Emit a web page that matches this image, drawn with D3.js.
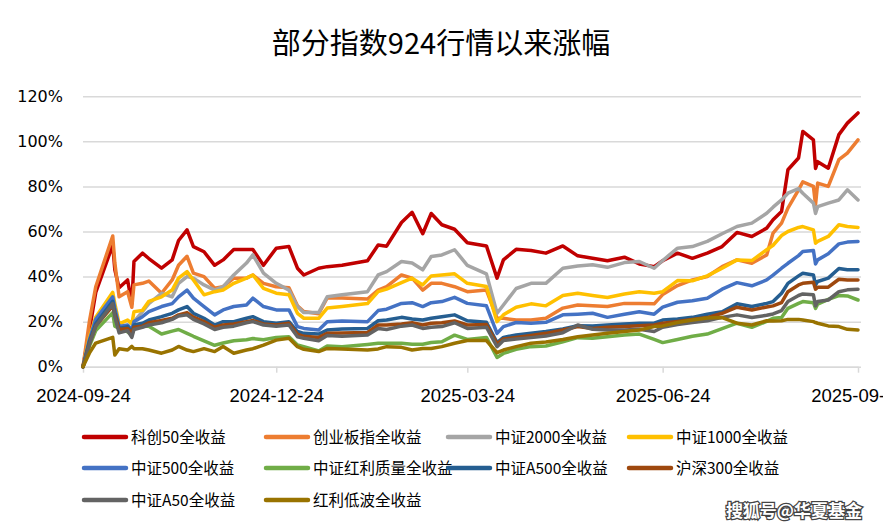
<!DOCTYPE html>
<html>
<head>
<meta charset="utf-8">
<script src="https://cdn.jsdelivr.net/npm/d3@7"></script>
<style>
  body { margin: 0; background: #fff; }
  svg { display: block; }
</style>
</head>
<body>
<svg id="chart" width="883" height="529"></svg>
<script>
const title = '部分指数924行情以来涨幅';
const watermark = '搜狐号@华夏基金';

const dates = [
  '2024-09-24', '2024-09-27', '2024-09-30', '2024-10-08', '2024-10-09', '2024-10-11', '2024-10-15', '2024-10-17', '2024-10-18', '2024-10-22',
  '2024-10-25', '2024-10-31', '2024-11-05', '2024-11-08', '2024-11-12', '2024-11-15', '2024-11-20', '2024-11-25', '2024-11-29', '2024-12-04',
  '2024-12-10', '2024-12-13', '2024-12-18', '2024-12-24', '2024-12-30', '2025-01-03', '2025-01-06', '2025-01-13', '2025-01-17', '2025-01-24',
  '2025-02-05', '2025-02-10', '2025-02-14', '2025-02-21', '2025-02-26', '2025-03-03', '2025-03-07', '2025-03-12', '2025-03-18', '2025-03-24',
  '2025-04-02', '2025-04-07', '2025-04-10', '2025-04-16', '2025-04-23', '2025-04-30', '2025-05-08', '2025-05-15', '2025-05-22', '2025-05-29',
  '2025-06-06', '2025-06-13', '2025-06-20', '2025-06-24', '2025-07-01', '2025-07-08', '2025-07-15', '2025-07-22', '2025-07-29', '2025-08-05',
  '2025-08-12', '2025-08-15', '2025-08-19', '2025-08-22', '2025-08-27', '2025-08-29', '2025-09-03', '2025-09-04', '2025-09-05', '2025-09-10',
  '2025-09-15', '2025-09-19', '2025-09-24'
];

const xTicks = ['2024-09-24', '2024-12-24', '2025-03-24', '2025-06-24', '2025-09-24'];
const yTicks = [0, 20, 40, 60, 80, 100, 120];

const names = [
  '科创50全收益', '创业板指全收益', '中证2000全收益', '中证1000全收益',
  '中证500全收益', '中证红利质量全收益', '中证A500全收益', '沪深300全收益',
  '中证A50全收益', '红利低波全收益'
];
const colors = ['#C00000', '#ED7D31', '#A5A5A5', '#FFC000', '#4472C4', '#70AD47', '#255E91', '#9E480E', '#636363', '#997300'];

// 涨幅, %
const kc50 = [
  0, 16, 33, 54, 43, 35, 38.5, 28, 46.7, 50.4,
  48, 43.7, 47.4, 56, 60.7, 53.3, 51, 45, 47.4, 52,
  52, 52, 45, 52.6, 53.3, 43.7, 40.7, 43.7, 44.4, 45,
  47, 54, 53.5, 64, 68.5, 59, 68, 63, 61, 55,
  53.6, 39.3, 47.4, 52.1, 51.6, 50.4, 53.6, 49.2, 48.1, 47,
  48.6, 45.6, 44.4, 47, 50.4, 48.1, 50.4, 53.3, 59.6, 57.8,
  61.5, 65.2, 68.9, 87.4, 92.6, 104.4, 100.7, 88, 91, 88.1,
  103, 108.1, 112.6
];
const cyb = [
  0, 20, 35.5, 58, 46, 31, 33.3, 26.4, 36.3, 37,
  38, 32.6, 38.5, 45, 49, 41.5, 40, 34.8, 35.5, 39.3,
  39.3, 40.7, 37, 35.5, 35, 27, 24.5, 23.5, 30.5, 30.5,
  30, 34, 35.5, 40.7, 39.3, 34, 37, 37, 35.5, 33.3,
  34, 21.5, 21.5, 20.7, 20.7, 21.5, 26, 27.4, 27, 26.7,
  28.1, 28.1, 27.9, 32, 36, 38.5, 40, 44.4, 47.4, 45.9,
  49.6, 59.3, 63.7, 70.4, 78.5, 82, 80, 72, 81.5, 80,
  91.9, 94.8, 100.7
];
const zz2000 = [
  0, 12, 20, 31, 26, 17, 17, 14, 20, 24.4,
  28, 32.6, 31, 37, 40, 39.3, 36.3, 34, 35.5, 40.7,
  46, 49.6, 41.5, 37, 34, 26.7, 24, 24, 31, 31.9,
  33.3, 40.7, 42.2, 46.7, 46, 43, 48.9, 49.6, 51.9, 45,
  41.2, 23.7, 27.4, 34.7, 37, 37, 43.7, 44.7, 45.2, 44.1,
  46.2, 46.7, 43.7, 47.1, 52.6, 53.3, 55.6, 59, 62.2, 63.7,
  68.1, 70.8, 74, 77, 79, 77, 72.6, 68, 71, 72.6,
  74, 78.5, 74
];
const zz1000 = [
  0, 13, 22, 33, 28, 19, 20.7, 19, 24.4, 25,
  29, 31, 34, 39.3, 42.2, 38.5, 31.9, 33.3, 34, 37,
  39.3, 40.7, 34.8, 32.6, 31.9, 23.7, 21.5, 21.5, 26, 26.7,
  28, 33.3, 34.4, 37.3, 39.3, 36.3, 40.3, 40.7, 41.2, 37,
  35.6, 20, 23, 26.4, 27.9, 27, 31.6, 32.6, 31.6, 30.7,
  32.3, 33.3, 32.6, 33.3, 38.2, 38.1, 40.3, 43.7, 47.4, 47.1,
  51.9, 53.9, 58.2, 60, 61.8, 62.2, 60.7, 54.8, 55.6, 57.8,
  63, 62.2, 61.8
];
const zz500 = [
  0, 12, 21, 31, 26, 17.8, 18.5, 16.3, 20, 22.2,
  24.4, 26.7, 28, 31, 34, 30.4, 26.7, 23, 25.2, 26.7,
  27.4, 30.4, 26.7, 25.2, 25.2, 17.8, 17, 16.3, 20, 20.3,
  20, 24.9, 25.5, 28.1, 28.4, 26.7, 28.4, 28.9, 30.8, 28.1,
  27, 14.8, 17.8, 19.6, 19.3, 19.7, 23, 23.3, 23.7, 21.9,
  23.3, 24.4, 23.3, 26.4, 28.6, 29.3, 30.4, 34.4, 37.3, 35.9,
  38.5, 40.6, 43.7, 45.9, 49.3, 51.1, 51.6, 45.6, 47.4, 50.1,
  54.5, 55.3, 55.6
];
const hlzl = [
  0, 9, 16, 24, 18, 17, 15.5, 14, 17.5, 18,
  18, 14.5, 15.8, 16.5, 14.8, 13.5, 11.5, 9.5, 10.5, 11.5,
  12, 12.5, 12, 13, 13.3, 9.6, 8.9, 7, 9.2, 8.9,
  9.9, 10.4, 10.4, 10.4, 10, 10, 10.7, 11.1, 14, 12.1,
  13, 4.1, 5.9, 7.7, 8.9, 9.2, 11.1, 12.9, 12.6, 13.3,
  14.1, 14.5, 12.1, 10.7, 12.1, 13.5, 14.5, 16.9, 19.3, 17.5,
  20.1, 21.5, 21.8, 25.9, 28.1, 28.9, 28.4, 25.9, 27.7, 29.9,
  31.6, 31.4, 29.6
];
const a500 = [
  0, 11, 19, 29, 24, 17, 17.8, 15.5, 18.5, 19.3,
  20.7, 22.2, 23.7, 25.2, 26.7, 23.7, 21.5, 18.5, 20, 20,
  21.5, 22.2, 20, 19.3, 20, 15.6, 14.8, 14.5, 16.3, 16.7,
  17, 20.4, 20.7, 21.9, 21.2, 20.7, 21.5, 22.2, 23, 20.4,
  19.7, 10.7, 13, 14.1, 14.8, 15.6, 16.7, 18.2, 18.1, 18.5,
  19, 19.3, 19.3, 20.7, 21.2, 21.9, 23.3, 24.4, 27.9, 26.7,
  28.1, 28.9, 32.6, 37, 40.3, 41.5, 40.7, 36.3, 37.8, 39.3,
  43.6, 43, 43
];
const hs300 = [
  0, 10, 18, 27, 23, 16.5, 17, 15, 17.5, 18,
  19.5, 20.5, 21.5, 23, 24, 22, 20, 17.5, 18.5, 19,
  20, 20.5, 19, 18.5, 19.3, 14.5, 13.5, 13, 14.8, 15,
  15.2, 18.5, 18.5, 19, 19.5, 18.5, 19.3, 19.5, 20.3, 18.5,
  18.7, 10.1, 12.3, 13, 13.9, 14.8, 16.3, 17.8, 17, 17.5,
  17.8, 18.2, 18.5, 19.3, 20.1, 20.9, 21.8, 23.7, 26.4, 25.2,
  26.5, 27, 28.4, 33.3, 36.3, 37, 37.5, 34.4, 35.3, 35.3,
  38.8, 38.5, 38.5
];
const a50 = [
  0, 10, 18, 28, 22, 15, 16, 13, 16.5, 17.5,
  18.5, 19.5, 21, 22.5, 23, 21, 19, 16.5, 17.5, 18,
  19.5, 20, 18.5, 18, 18.5, 13.3, 12.6, 11.5, 13.8, 13.5,
  14.1, 17, 16.5, 18, 18.5, 17, 17.5, 17.8, 19.5, 17,
  17.5, 8.9, 11.6, 12.3, 12.9, 13.6, 15.1, 18.5, 16.6, 16.3,
  16.3, 16.6, 15.6, 17.5, 18.7, 19.6, 20.4, 21.9, 23, 21.8,
  22.8, 23.4, 24.9, 28.9, 31.6, 32.3, 31.9, 27, 28.9, 29.6,
  33.3, 34.1, 34.4
];
const hldb = [
  0, 6, 10.5, 13, 5.2, 8, 7.4, 9, 8, 8,
  7.4, 6, 7.4, 9, 7.4, 6.7, 8, 6.7, 9, 6,
  7.4, 8, 9.6, 11.8, 12.6, 8.9, 7.7, 6.7, 8.1, 7.9,
  7.4, 7.9, 8.9, 8.6, 7.4, 8.1, 8.1, 8.9, 10.4, 11.6,
  11.6, 6.2, 7.4, 8.9, 10.4, 11, 12.1, 13.3, 14.1, 14.8,
  15.6, 16.3, 17.8, 18.1, 19.6, 20.7, 21.6, 21.8, 19.3, 18.5,
  20.4, 20.3, 20.4, 21, 21, 20.7, 20, 19.6, 19.3, 18.1,
  17.8, 16.6, 16.3
];

const seriesValues = [kc50, cyb, zz2000, zz1000, zz500, hlzl, a500, hs300, a50, hldb];

const parseDate = d3.timeParse('%Y-%m-%d');
const preparedData = names.map((name, i) => ({
  name,
  color: colors[i],
  points: dates.map((d, j) => ({ date: parseDate(d), value: seriesValues[i][j] }))
}));

const svg = d3.select('#chart');
svg.append('rect').attr('width', 883).attr('height', 529).attr('fill', '#fff');

const plotLeft = 83;
const plotRight = 858;
const plotTop = 96.3;
const plotBottom = 366.7;

const scaleX = d3.scaleTime()
  .domain([parseDate(xTicks[0]), parseDate(xTicks[xTicks.length - 1])])
  .range([plotLeft, plotRight]);
const scaleY = d3.scaleLinear()
  .domain([0, 120])
  .range([plotBottom, plotTop]);

// title
svg.append('text')
  .attr('x', 441)
  .attr('y', 54)
  .attr('text-anchor', 'middle')
  .style('font-family', '"Noto Sans CJK SC", sans-serif')
  .style('font-size', '29px')
  .style('fill', '#000')
  .text(title);

// grid + y axis
const yAxis = d3.axisLeft(scaleY)
  .tickValues(yTicks)
  .tickFormat(v => `${v}%`)
  .tickSize(-(plotRight + 3 - plotLeft))
  .tickPadding(20);
const yAxisWrapper = svg.append('g')
  .attr('transform', `translate(${plotLeft}, 0)`)
  .call(yAxis);
yAxisWrapper.select('.domain').remove();
yAxisWrapper.selectAll('line').attr('stroke', '#D9D9D9').attr('stroke-width', 1.5);
yAxisWrapper.selectAll('text')
  .style('font-family', '"DejaVu Sans", sans-serif')
  .style('font-size', '16px')
  .style('fill', '#000');

// x axis
const xAxis = d3.axisBottom(scaleX)
  .tickValues(xTicks.map(parseDate))
  .tickFormat(d3.timeFormat('%Y-%m-%d'))
  .tickSize(6)
  .tickSizeOuter(0)
  .tickPadding(16);
const xAxisWrapper = svg.append('g')
  .attr('transform', `translate(0, ${plotBottom})`)
  .call(xAxis);
xAxisWrapper.select('.domain').attr('stroke', '#D9D9D9').attr('stroke-width', 1.5);
xAxisWrapper.selectAll('line').attr('stroke', '#D9D9D9').attr('stroke-width', 1.5);
xAxisWrapper.selectAll('text')
  .style('font-family', '"Liberation Sans", Arial, sans-serif')
  .style('font-size', '18.5px')
  .style('fill', '#000');

// lines
const line = d3.line()
  .x(d => scaleX(d.date))
  .y(d => scaleY(d.value));

svg.append('g')
  .attr('class', 'lines')
  .selectAll('path')
  .data(preparedData)
  .enter()
  .append('path')
  .attr('d', d => line(d.points))
  .attr('fill', 'none')
  .attr('stroke', d => d.color)
  .attr('stroke-width', 3.5)
  .attr('stroke-linejoin', 'round')
  .attr('stroke-linecap', 'round');

// legend
const legendCols = [84, 266, 448, 629];
const legendRows = [437, 468, 500];
const legend = svg.append('g')
  .attr('class', 'legend')
  .selectAll('g')
  .data(preparedData)
  .enter()
  .append('g')
  .attr('transform', (_, i) => `translate(${legendCols[i % 4]}, ${legendRows[Math.floor(i / 4)]})`);
legend.append('line')
  .attr('x1', 0)
  .attr('x2', 42)
  .attr('stroke', d => d.color)
  .attr('stroke-width', 4.5)
  .attr('stroke-linecap', 'round');
legend.append('text')
  .attr('x', 47)
  .attr('y', 0)
  .attr('dy', '0.36em')
  .style('font-family', '"Noto Sans CJK SC", sans-serif')
  .style('font-size', '15.5px')
  .style('fill', '#000')
  .text(d => d.name);

// watermark
svg.append('text')
  .attr('x', 862)
  .attr('y', 517)
  .attr('text-anchor', 'end')
  .style('font-family', '"Noto Sans CJK SC", sans-serif')
  .style('font-size', '17px')
  .style('font-weight', 'bold')
  .style('fill', '#fff')
  .style('stroke', '#444')
  .style('stroke-width', '2.5px')
  .style('paint-order', 'stroke')
  .text(watermark);
</script>
</body>
</html>
